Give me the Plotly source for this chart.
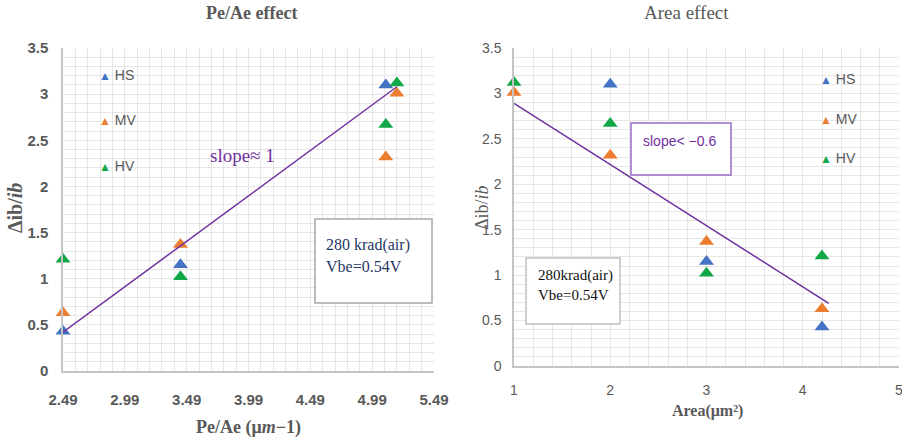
import plotly.graph_objects as go

# ---- data -------------------------------------------------------------
pe_ae = [2.49, 3.44, 5.10, 5.19]      # Pe/Ae (µm^-1) of each device
area = [4.2, 3.0, 2.0, 1.0]           # emitter area (µm²) of the same devices

hs_y = [0.43, 1.15, 3.10]             # HS  Δib/ib (first three devices)
mv_y = [0.63, 1.37, 2.32, 3.01]       # MV  Δib/ib
hv_y = [1.21, 1.02, 2.67, 3.12]       # HV  Δib/ib

fit_pe_x = [2.49, 5.19]               # trend line, Pe/Ae panel
fit_pe_y = [0.42, 3.08]
fit_area_x = [1.0, 4.27]              # trend line, Area panel
fit_area_y = [2.89, 0.69]

pe_ticks = [2.49, 2.99, 3.49, 3.99, 4.49, 4.99, 5.49]
area_ticks = [1, 2, 3, 4, 5]
y_ticks = [0, 0.5, 1, 1.5, 2, 2.5, 3, 3.5]

series = [
    ("HS", hs_y, "#4472C4"),
    ("MV", mv_y, "#ED7D31"),
    ("HV", hv_y, "#12A84A"),
]

W, H = 902, 447
PURPLE = "#7030A0"
GRID = "#e6e6e6"
AXIS = "#c4c4c4"
GREY = "#595959"
SERIF = "Liberation Serif, DejaVu Serif, serif"
NARROW = "Liberation Sans Narrow, Liberation Sans, Arial, sans-serif"


def fx(p):
    return p / W


def fy(p):
    return 1 - p / H


fig = go.Figure()

# markers
for name, ys, col in series:
    n = len(ys)
    fig.add_trace(go.Scatter(x=pe_ae[:n], y=ys, mode="markers", name=name,
                             marker=dict(symbol="triangle-up", size=13, color=col),
                             cliponaxis=False,
                             xaxis="x", yaxis="y", showlegend=False))
    fig.add_trace(go.Scatter(x=area[:n], y=ys, mode="markers", name=name,
                             marker=dict(symbol="triangle-up", size=13, color=col),
                             cliponaxis=False,
                             xaxis="x2", yaxis="y2", showlegend=False))

# trend lines
fig.add_trace(go.Scatter(x=fit_pe_x, y=fit_pe_y, mode="lines",
                         line=dict(color=PURPLE, width=1.5), cliponaxis=False,
                         xaxis="x", yaxis="y", showlegend=False))
fig.add_trace(go.Scatter(x=fit_area_x, y=fit_area_y, mode="lines",
                         line=dict(color=PURPLE, width=1.5), cliponaxis=False,
                         xaxis="x2", yaxis="y2", showlegend=False))

common_axis = dict(showgrid=True, gridcolor=GRID, gridwidth=1, zeroline=False,
                   showline=True, linecolor=AXIS, linewidth=1.5, ticks="",
                   automargin=False, ticklabeloverflow="allow")

fig.update_layout(
    width=W, height=H,
    margin=dict(l=0, r=0, t=0, b=0, autoexpand=False),
    showlegend=False,
    paper_bgcolor="white", plot_bgcolor="white",
    xaxis=dict(domain=[fx(63), fx(434)], range=[2.49, 5.49],
               tickmode="array", tickvals=pe_ticks,
               ticktext=[f"{v:.2f}" for v in pe_ticks],
               minor=dict(tick0=2.49, dtick=0.1, showgrid=True, gridcolor=GRID),
               tickfont=dict(family=NARROW, size=15, weight="bold", color=GREY),
               ticklabelstandoff=14, anchor="y", **common_axis),
    yaxis=dict(domain=[fy(371), fy(48)], range=[0, 3.5],
               tickmode="array", tickvals=y_ticks,
               minor=dict(tick0=0, dtick=0.1, showgrid=True, gridcolor=GRID),
               tickfont=dict(family=NARROW, size=15, weight="bold", color=GREY),
               ticklabelstandoff=10, anchor="x", **common_axis),
    xaxis2=dict(domain=[fx(514), fx(899)], range=[1, 5],
                tickmode="array", tickvals=area_ticks,
                minor=dict(tick0=1, dtick=0.2, showgrid=True, gridcolor=GRID),
                tickfont=dict(family=NARROW, size=14, color=GREY),
                ticklabelstandoff=10, anchor="y2", **common_axis),
    yaxis2=dict(domain=[fy(366), fy(48)], range=[0, 3.5],
                tickmode="array", tickvals=y_ticks,
                minor=dict(tick0=0, dtick=0.1, showgrid=True, gridcolor=GRID),
                tickfont=dict(family=NARROW, size=14, color=GREY),
                ticklabelstandoff=8, anchor="x2", **common_axis),
)

# boxes behind the notes
fig.add_shape(type="rect", xref="paper", yref="paper",
              x0=fx(315), x1=fx(432), y0=fy(303), y1=fy(219),
              line=dict(color="#a8a8a8", width=1.5), fillcolor="white", layer="above")
fig.add_shape(type="rect", xref="paper", yref="paper",
              x0=fx(526), x1=fx(620), y0=fy(324), y1=fy(258),
              line=dict(color="#c0c0c0", width=1.5), fillcolor="white", layer="above")
fig.add_shape(type="rect", xref="paper", yref="paper",
              x0=fx(631), x1=fx(731), y0=fy(175), y1=fy(123),
              line=dict(color="#9b6cc9", width=1.5), fillcolor="white", layer="above")

ann = []


def note(x, y, text, size, color, family=SERIF, xanchor="center", yanchor="middle",
         textangle=0, weight="normal"):
    ann.append(dict(x=fx(x), y=fy(y), xref="paper", yref="paper", text=text,
                    showarrow=False, xanchor=xanchor, yanchor=yanchor,
                    textangle=textangle,
                    font=dict(family=family, size=size, color=color, weight=weight)))


# titles
note(251, 13, "Pe/Ae effect", 18, GREY, weight="bold")
note(686, 13, "Area effect", 19, GREY)

# axis titles
note(248, 427, "Pe/Ae (μ<i>m</i>−1)", 18, GREY, weight="bold")
note(707, 411, "Area(μm²)", 16, GREY, weight="bold")
note(15, 208, "Δib/<i>ib</i>", 20, GREY, textangle=-90, weight="bold")
note(482, 208, "Δib/<i>ib</i>", 18, GREY, textangle=-90)

# legend entries
for (name, _, col), yl, yr in zip(series, [75, 120, 166], [79, 119, 158]):
    label = f"<span style='color:{col};font-size:12px'>▲</span> {name}"
    note(97, yl, label, 14, GREY, family=NARROW, xanchor="left")
    note(818, yr, label, 14, GREY, family=NARROW, xanchor="left")

# notes
note(242, 155, "slope≈ 1", 19, PURPLE)
note(641, 141, "slope&lt; −0.6", 14, PURPLE, family=NARROW, xanchor="left")
note(324, 245, "280 krad(air)", 16, "#1F3864", xanchor="left")
note(324, 266, "Vbe=0.54V", 16, "#1F3864", xanchor="left")
note(536, 275, "280krad(air)", 15, "#111111", xanchor="left")
note(536, 295, "Vbe=0.54V", 15, "#111111", xanchor="left")

fig.update_layout(annotations=ann)

fig.write_html("out.html")
